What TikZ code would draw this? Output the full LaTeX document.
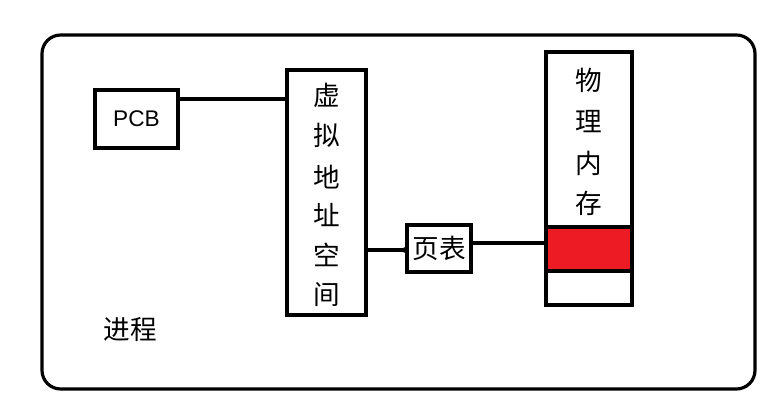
\documentclass[tikz,border=0pt]{standalone}
\usepackage{fontspec}
\newfontfamily\cjk{Noto Sans CJK SC}
\setmainfont{Liberation Sans}
\begin{document}
\begin{tikzpicture}[x=0.0264cm,y=-0.0264cm,line width=2.4pt,
  bx/.style={draw=black,line width=2.4pt},
  txt/.style={font=\cjk\fontsize{20}{24}\selectfont,inner sep=0pt}]
\useasboundingbox (0,0) rectangle (774,407);
\draw[rounded corners=14] (42,35) rectangle (755,389);
\node[bx,minimum width=83*0.0264cm,minimum height=58*0.0264cm,font=\fontsize{17}{20}\selectfont,inner sep=0pt] (pcb) at (136.5,119) {PCB};
\node[bx,minimum width=79*0.0264cm,minimum height=245*0.0264cm] (va) at (326.5,192.5) {};
\foreach \c/\y [count=\i] in {虚/95,拟/135,地/177,址/215,空/255,间/295}
  \node[txt] (v\i) at (326.5,\y) {\c};
\node[bx,minimum width=64*0.0264cm,minimum height=47*0.0264cm,txt,draw] (pt) at (439,248.5) {页表};
\node[bx,minimum width=86*0.0264cm,minimum height=253*0.0264cm] (pm) at (589,178.5) {};
\foreach \c/\y [count=\i] in {物/80,理/122,内/163,存/203}
  \node[txt] (p\i) at (589,\y) {\c};
\draw[fill={rgb,255:red,237;green,28;blue,36}] (546,227) rectangle (632,271);
\coordinate (r) at (546,243);
\coordinate (a1) at (287,99);
\coordinate (a2) at (366,250);
\draw (pcb.east|-a1) -- (a1);
\draw (a2) -- (pt.west|-a2);
\fill (pt.west|-a2) circle (3);
\draw (pt.east|-r) -- (r);
\node[txt] (proc) at (130,330) {进程};
\end{tikzpicture}
\end{document}
